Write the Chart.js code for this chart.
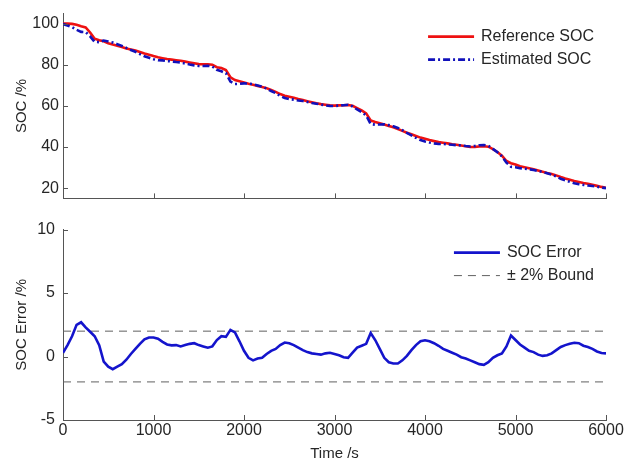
<!DOCTYPE html>
<html>
<head>
<meta charset="utf-8">
<script src="https://cdn.jsdelivr.net/npm/chart.js@4.4.0/dist/chart.umd.min.js"></script>
<style>
  body { margin: 0; background: #fff; }
  #wrap { position: relative; width: 626px; height: 461px; }
  canvas { position: absolute; left: 0; }
</style>
</head>
<body>
<div id="wrap">
  <canvas id="graficoSoc" width="626" height="212" style="top:0"></canvas>
  <canvas id="graficoErro" width="626" height="249" style="top:212px"></canvas>
</div>
<script>
// tempo em segundos
const tempo = [
  0, 50, 100, 150, 200, 250, 300, 350, 400, 450,
  500, 550, 600, 650, 700, 750, 800, 850, 900, 950,
  1000, 1050, 1100, 1150, 1200, 1250, 1300, 1350, 1400, 1450,
  1500, 1550, 1600, 1650, 1700, 1750, 1800, 1850, 1900, 1950,
  2000, 2050, 2100, 2150, 2200, 2250, 2300, 2350, 2400, 2450,
  2500, 2550, 2600, 2650, 2700, 2750, 2800, 2850, 2900, 2950,
  3000, 3050, 3100, 3150, 3200, 3250, 3300, 3350, 3400, 3450,
  3500, 3550, 3600, 3650, 3700, 3750, 3800, 3850, 3900, 3950,
  4000, 4050, 4100, 4150, 4200, 4250, 4300, 4350, 4400, 4450,
  4500, 4550, 4600, 4650, 4700, 4750, 4800, 4850, 4900, 4950,
  5000, 5050, 5100, 5150, 5200, 5250, 5300, 5350, 5400, 5450,
  5500, 5550, 5600, 5650, 5700, 5750, 5800, 5850, 5900, 5950,
  6000
];

const socReferencia = [
  100.2, 100.1, 100.0, 99.6, 98.8, 98.3, 95.8, 92.8, 92.0, 91.5,
  90.6, 89.9, 89.3, 88.7, 88.0, 87.5, 87.0, 86.3, 85.6, 85.0,
  84.3, 83.7, 83.3, 82.9, 82.6, 82.3, 82.0, 81.6, 81.2, 80.8,
  80.4, 80.3, 80.3, 80.1, 78.9, 78.5, 77.5, 74.0, 72.6, 72.0,
  71.4, 70.8, 70.3, 69.8, 69.3, 68.7, 67.8, 66.9, 65.8, 65.0,
  64.5, 64.0, 63.4, 62.9, 62.3, 61.8, 61.3, 60.9, 60.6, 60.3,
  60.2, 60.3, 60.4, 60.5, 60.1, 59.0, 57.9, 56.4, 53.0, 52.2,
  51.6, 51.0, 50.3, 49.6, 48.8, 47.9, 47.0, 46.2, 45.4, 44.6,
  44.0, 43.4, 42.9, 42.4, 42.1, 41.8, 41.4, 41.1, 40.8, 40.4,
  40.0, 40.1, 40.3, 40.4, 40.2, 39.0, 37.6, 35.8, 33.2, 32.1,
  31.5, 30.7, 30.2, 29.7, 29.2, 28.6, 28.0, 27.4, 26.9, 26.2,
  25.4, 24.7, 24.1, 23.5, 23.0, 22.5, 22.1, 21.6, 21.1, 20.6,
  20.2
];

const socEstimado = [
  99.9, 99.2, 98.4, 97.1, 96.1, 96.0, 93.9, 91.2, 91.1, 91.9,
  91.4, 90.9, 90.1, 89.3, 88.3, 87.3, 86.4, 85.3, 84.2, 83.5,
  82.8, 82.3, 82.2, 81.9, 81.7, 81.4, 81.2, 80.7, 80.2, 79.8,
  79.5, 79.5, 79.6, 79.3, 77.6, 76.9, 76.0, 71.9, 70.7, 70.8,
  71.0, 70.9, 70.6, 70.0, 69.4, 68.5, 67.3, 66.3, 64.9, 63.9,
  63.4, 63.1, 62.7, 62.4, 62.0, 61.5, 61.1, 60.7, 60.3, 60.0,
  60.0, 60.2, 60.4, 60.6, 59.8, 58.3, 57.0, 55.4, 51.2, 50.9,
  51.0, 51.1, 50.7, 50.1, 49.3, 48.2, 46.9, 45.7, 44.5, 43.4,
  42.7, 42.2, 41.8, 41.5, 41.5, 41.3, 41.1, 40.9, 40.8, 40.5,
  40.3, 40.5, 40.9, 41.0, 40.6, 39.1, 37.5, 35.5, 32.4, 30.4,
  30.2, 29.7, 29.5, 29.2, 28.8, 28.4, 27.9, 27.3, 26.6, 25.7,
  24.6, 23.8, 23.1, 22.4, 21.9, 21.6, 21.3, 21.0, 20.7, 20.3,
  20.0
];

const erroSoc = [
  0.30, 0.9, 1.6, 2.5, 2.7, 2.3, 1.95, 1.6, 0.9, -0.4,
  -0.8, -1.0, -0.8, -0.6, -0.25, 0.2, 0.6, 1.0, 1.35, 1.5,
  1.5, 1.4, 1.15, 0.95, 0.88, 0.9, 0.8, 0.9, 1.0, 1.05,
  0.9, 0.8, 0.7, 0.8, 1.3, 1.6, 1.55, 2.1, 1.9, 1.2,
  0.45, -0.1, -0.3, -0.15, -0.1, 0.2, 0.45, 0.6, 0.9, 1.1,
  1.05, 0.9, 0.7, 0.5, 0.35, 0.25, 0.2, 0.15, 0.25, 0.3,
  0.2, 0.1, -0.05, -0.1, 0.3, 0.7, 0.85, 1.0, 1.85, 1.3,
  0.6, -0.1, -0.45, -0.55, -0.55, -0.3, 0.05, 0.5, 0.9, 1.2,
  1.28, 1.2, 1.05, 0.85, 0.6, 0.45, 0.3, 0.15, -0.05, -0.15,
  -0.3, -0.45, -0.6, -0.65, -0.45, -0.1, 0.1, 0.25, 0.8, 1.65,
  1.3, 0.95, 0.7, 0.45, 0.35, 0.15, 0.05, 0.1, 0.25, 0.5,
  0.75, 0.9, 1.0, 1.08, 1.05, 0.85, 0.75, 0.6, 0.4, 0.28,
  0.25
];

const tempoLimite = [0, 6000];
const limiteSuperior = [2, 2];
const limiteInferior = [-2, -2];

const ticksTempo = [0, 1000, 2000, 3000, 4000, 5000, 6000];
const ticksSoc = [20, 40, 60, 80, 100];
const ticksErro = [-5, 0, 5, 10];

const fonte = "'Liberation Sans', Arial, sans-serif";
const corTexto = '#262626';
const corEixo = '#555555';

function pontos(xs, ys) {
  return xs.map((x, i) => ({ x: x, y: ys[i] }));
}

// ticks para dentro, estilo matlab
const ticksInternos = {
  id: 'ticksInternos',
  afterDatasetsDraw(chart) {
    const { ctx, chartArea: a, scales: { x, y } } = chart;
    ctx.save();
    ctx.strokeStyle = corEixo;
    ctx.lineWidth = 1;
    ctx.beginPath();
    x.ticks.forEach(t => {
      const px = Math.round(x.getPixelForValue(t.value)) + 0.5;
      ctx.moveTo(px, a.bottom);
      ctx.lineTo(px, a.bottom - 5);
    });
    y.ticks.forEach(t => {
      const py = Math.round(y.getPixelForValue(t.value)) + 0.5;
      ctx.moveTo(a.left, py);
      ctx.lineTo(a.left + 5, py);
    });
    ctx.stroke();
    ctx.restore();
  }
};

const legendaCaixa = {
  id: 'legendaCaixa',
  afterDraw(chart) {
    const { ctx, chartArea: a } = chart;
    const itens = chart.data.datasets.filter(d => !d.semLegenda);
    ctx.save();
    ctx.font = '16px ' + fonte;
    const larguraTexto = Math.max(...itens.map(d => ctx.measureText(d.label).width));
    const xTexto = a.right - 12 - larguraTexto;
    const xLinha = xTexto - 7 - 46;
    ctx.fillStyle = '#fff';
    ctx.fillRect(xLinha - 6, a.top + 9, a.right - xLinha, itens.length * 23 + 6);
    itens.forEach((d, i) => {
      const yc = a.top + 23 + i * 23;
      ctx.strokeStyle = d.borderColor;
      ctx.lineWidth = d.borderWidth;
      ctx.setLineDash(d.borderDash || []);
      ctx.beginPath();
      ctx.moveTo(xLinha, yc);
      ctx.lineTo(xLinha + 46, yc);
      ctx.stroke();
      ctx.setLineDash([]);
      ctx.fillStyle = corTexto;
      ctx.textBaseline = 'middle';
      ctx.textAlign = 'left';
      ctx.fillText(d.label, xTexto, yc);
    });
    ctx.restore();
  }
};

function eixoX(comRotulos) {
  return {
    type: 'linear',
    min: 0,
    max: 6000,
    afterBuildTicks: s => { s.ticks = ticksTempo.map(v => ({ value: v })); },
    afterFit: s => { s.height = comRotulos ? 41 : 0; },
    grid: { display: true, drawOnChartArea: false, drawTicks: false },
    border: { display: true, color: corEixo, width: 1 },
    ticks: {
      display: comRotulos,
      color: corTexto,
      padding: 1,
      maxRotation: 0,
      callback: v => String(v),
      font: { family: fonte, size: 16 }
    },
    title: {
      display: comRotulos,
      text: 'Time /s',
      color: corTexto,
      padding: { top: 0, bottom: 0 },
      font: { family: fonte, size: 15, lineHeight: 1 }
    }
  };
}

function eixoY(min, max, valores, titulo, pad) {
  return {
    type: 'linear',
    min: min,
    max: max,
    afterBuildTicks: s => { s.ticks = valores.map(v => ({ value: v })); },
    afterFit: s => { s.width = 63; },
    grid: { display: true, drawOnChartArea: false, drawTicks: false },
    border: { display: true, color: corEixo, width: 1 },
    ticks: {
      color: corTexto,
      padding: pad,
      callback: v => String(v),
      font: { family: fonte, size: 16 }
    },
    title: {
      display: true,
      text: titulo,
      color: corTexto,
      padding: { top: 14, bottom: 0 },
      font: { family: fonte, size: 15, lineHeight: 1 }
    }
  };
}

new Chart(document.getElementById('graficoSoc'), {
  type: 'line',
  data: {
    datasets: [
      {
        label: 'Reference SOC',
        data: pontos(tempo, socReferencia),
        borderColor: '#ee1111',
        borderWidth: 2.6,
        pointRadius: 0,
        order: 1
      },
      {
        label: 'Estimated SOC',
        data: pontos(tempo, socEstimado),
        borderColor: '#1111bb',
        borderWidth: 2.6,
        borderDash: [7, 3, 2, 3],
        pointRadius: 0,
        order: 0
      }
    ]
  },
  options: {
    responsive: false,
    animation: false,
    layout: { padding: { top: 12, right: 20, bottom: 5, left: 0 } },
    plugins: { legend: { display: false }, tooltip: { enabled: false } },
    scales: {
      x: eixoX(false),
      y: eixoY(15, 105, ticksSoc, 'SOC /%', 4)
    }
  },
  plugins: [ticksInternos, legendaCaixa]
});

new Chart(document.getElementById('graficoErro'), {
  type: 'line',
  data: {
    datasets: [
      {
        label: 'SOC Error',
        data: pontos(tempo, erroSoc),
        borderColor: '#1414cc',
        borderWidth: 2.6,
        pointRadius: 0,
        order: 0
      },
      {
        label: '\u00b1 2% Bound',
        data: pontos(tempoLimite, limiteSuperior),
        borderColor: '#606060',
        borderWidth: 1,
        borderDash: [8, 6],
        pointRadius: 0,
        order: 1
      },
      {
        label: '\u00b1 2% Bound',
        data: pontos(tempoLimite, limiteInferior),
        borderColor: '#606060',
        borderWidth: 1,
        borderDash: [8, 6],
        pointRadius: 0,
        order: 2,
        semLegenda: true
      }
    ]
  },
  options: {
    responsive: false,
    animation: false,
    layout: { padding: { top: 14, right: 20, bottom: 0, left: 0 } },
    plugins: { legend: { display: false }, tooltip: { enabled: false } },
    scales: {
      x: eixoX(true),
      y: eixoY(-5, 10, ticksErro, 'SOC Error /%', 8)
    }
  },
  plugins: [ticksInternos, legendaCaixa]
});
</script>
</body>
</html>
